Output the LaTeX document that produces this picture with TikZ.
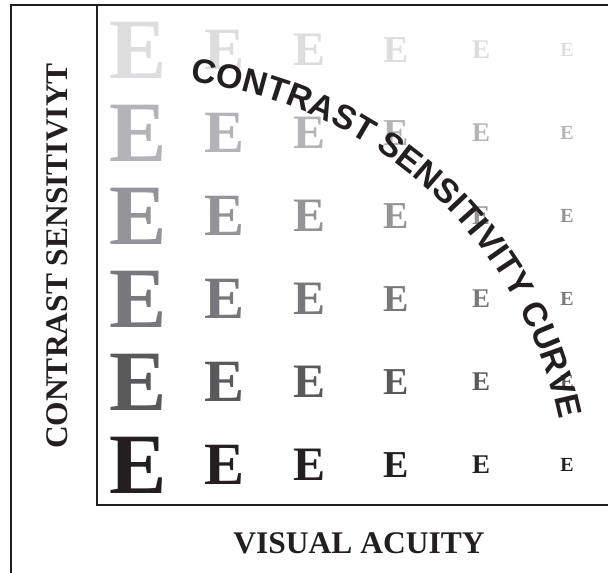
\documentclass[tikz,border=0pt]{standalone}
\usepackage{fontspec}
\setmainfont{Liberation Serif}
\newfontfamily\curvefont{Liberation Sans}
\usetikzlibrary{decorations.text}

\definecolor{inkblack}{HTML}{231F20}
\definecolor{tintA}{HTML}{DCDDDF}
\definecolor{tintB}{HTML}{B3B4B7}
\definecolor{tintC}{HTML}{939497}
\definecolor{tintD}{HTML}{77787B}
\definecolor{tintE}{HTML}{58595B}
\definecolor{tintF}{HTML}{231F20}

\begin{document}
\begin{tikzpicture}[
    x=1pt, y=1pt,
    frame/.style={draw=inkblack, line width=2pt},
    letter/.style={font=\bfseries\fontsize{#1}{#1}\selectfont, inner sep=0pt},
    axislabel/.style={font=\bfseries\fontsize{31.5}{32}\selectfont,
                      text=inkblack, inner sep=0pt}
]
    \useasboundingbox (0,0) rectangle (608,573);

    % outer frame and plot axes
    \draw[frame] (11,0) -- (11,568) -- (608,568);
    \draw[frame] (97,568) -- (97,68) -- (608,68);

    % chart of letters: size by column, shade by row
    \foreach \col/\cx/\sz in {1/138/86, 2/225/60, 3/310/48, 4/396/38, 5/481/27, 6/567/20} {
        \foreach \row/\cy/\shade in {1/523/tintA, 2/440/tintB, 3/357/tintC,
                                     4/274/tintD, 5/191/tintE, 6/108/tintF} {
            \node[letter=\sz, text=\shade] (e\row\col) at (\cx,\cy) {E};
        }
    }

    \node[axislabel, rotate=90] (ylabel) at (57,317) {CONTRAST SENSITIVIYT};
    \node[axislabel] (xlabel) at (359,30) {VISUAL ACUITY};

    % curved caption
    \path[decorate, decoration={text along path, text align=center,
          text color=inkblack,
          text={|\curvefont\bfseries\fontsize{34}{34}\selectfont|CONTRAST SENSITIVITY CURVE}}]
        (141,67) ++(85:427) arc[start angle=85, end angle=10, radius=427];
\end{tikzpicture}
\end{document}
